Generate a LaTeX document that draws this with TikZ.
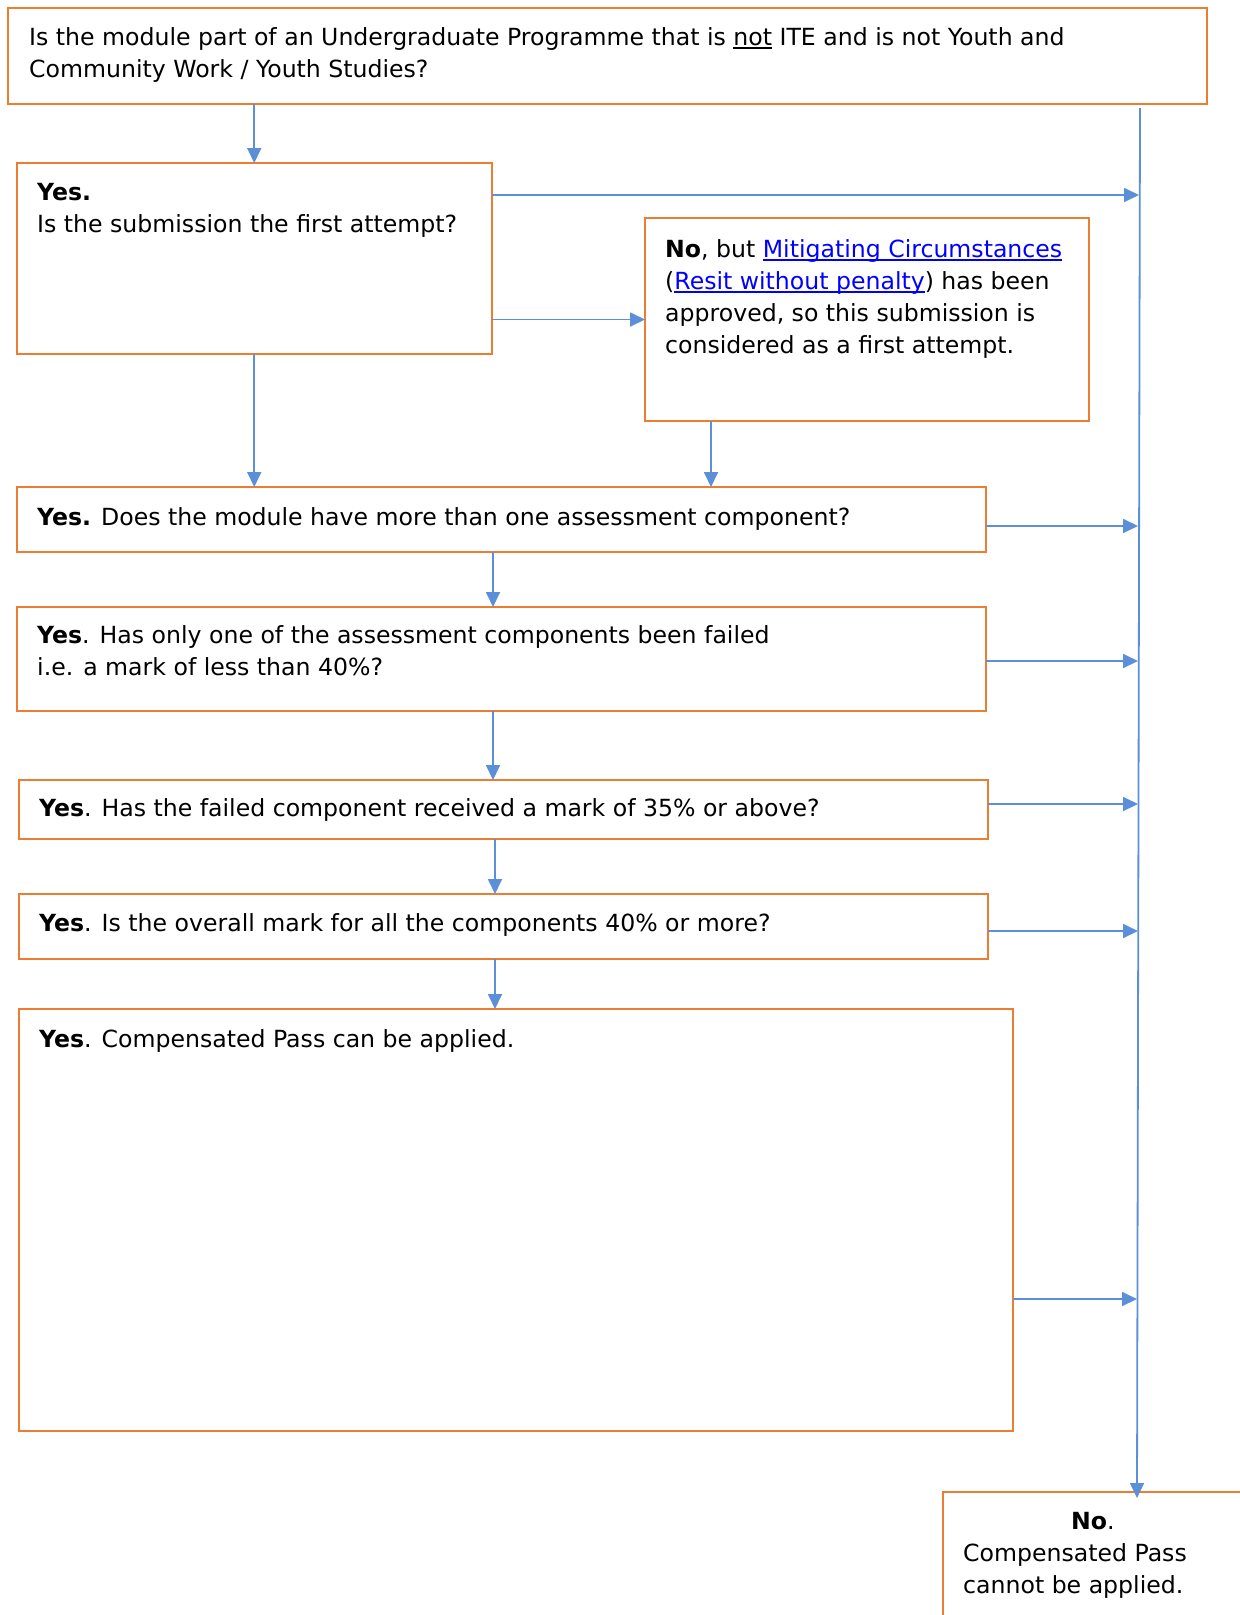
\documentclass[tikz,border=0pt]{standalone}
\usepackage{fontspec}
\setmainfont{DejaVu Sans}
\usetikzlibrary{arrows.meta}
\definecolor{boxor}{HTML}{ED7D31}
\definecolor{conblue}{HTML}{5B8FD8}
\definecolor{lnkblue}{HTML}{0000FF}
\newcommand\ulx[1]{\leavevmode\setbox0=\hbox{#1}\rlap{\rule[-4pt]{\wd0}{1.6pt}}\box0\relax}
\newcommand\lnk[1]{{\color{lnkblue}\ulx{#1}}}
\begin{document}
\begin{tikzpicture}[x=1pt,y=-1pt,
  box/.style={draw=boxor, line width=2pt, rectangle, inner sep=0pt, outer sep=0pt, anchor=north west},
  txt/.style={inner sep=0pt, anchor=base west, align=left, font=\fontsize{23.6}{32}\selectfont},
  conn/.style={draw=conblue, line width=1.8pt, -{Triangle[length=15pt,width=14pt]}}]
\useasboundingbox (0,0) rectangle (1240,1615);
\clip (0,0) rectangle (1240,1615);
% boxes
\node[box, minimum width=1199pt, minimum height=96pt] (b0) at (8,8) {};
\node[box, minimum width=475.5pt, minimum height=191pt] (b1) at (16.5,163) {};
\node[box, minimum width=444pt, minimum height=203pt] (nb) at (645,218) {};
\node[box, minimum width=969.5pt, minimum height=65pt] (b3) at (16.5,487) {};
\node[box, minimum width=969.5pt, minimum height=104pt] (b4) at (16.5,607) {};
\node[box, minimum width=969.5pt, minimum height=59pt] (b5) at (18.5,780) {};
\node[box, minimum width=969.5pt, minimum height=65pt] (b6) at (18.5,894) {};
\node[box, minimum width=994.5pt, minimum height=422pt] (b7) at (18.5,1009) {};
\node[box, minimum width=320pt, minimum height=150pt] (nob) at (943,1492) {};
% texts (base anchor = baseline of the last line)
\node[txt] (t0) at (29,77) {Is the module part of an Undergraduate Programme that is \ulx{not} ITE and is not Youth and\\Community Work / Youth Studies?};
\node[txt] (t1) at (37,232) {\textbf{Yes.}\\Is the submission the first attempt?};
\node[txt] (tn) at (665,353) {\textbf{No}, but \lnk{Mitigating Circumstances}\\(\lnk{Resit without penalty}) has been\\approved, so this submission is\\considered as a first attempt.};
\node[txt] (t3) at (37,525) {\textbf{Yes.} Does the module have more than one assessment component?};
\node[txt] (t4) at (37,675) {\textbf{Yes}. Has only one of the assessment components been failed\\i.e. a mark of less than 40\%?};
\node[txt] (t5) at (39,816) {\textbf{Yes}. Has the failed component received a mark of 35\% or above?};
\node[txt] (t6) at (39,931) {\textbf{Yes}. Is the overall mark for all the components 40\% or more?};
\node[txt] (t7) at (39,1047) {\textbf{Yes}. Compensated Pass can be applied.};
\node[txt] (tno) at (963,1593) {\hspace*{108pt}\textbf{No}.\\Compensated Pass\\cannot be applied.};
% coordinates
\coordinate (vtop) at (1140,108);
\coordinate (vbot) at (1137,1498);
\coordinate (e1) at (1139,195);
\coordinate (e3) at (1138,526);
\coordinate (e4) at (1138,661);
\coordinate (e5) at (1138,804);
\coordinate (e6) at (1138,931);
\coordinate (e7) at (1137,1299);
\coordinate (xk) at (711,0);
\coordinate (xm) at (493,0);
\coordinate (xn) at (495,0);
% connectors
\draw[conn] (vtop) -- (vbot);
\draw[conn] (b0.south -| b1.north) -- (b1.north);
\draw[conn] (b1.east |- e1) -- (e1);
\draw[conn] (b1.east |- nb.west) -- (nb.west);
\draw[conn] (b1.south) -- (b1.south |- b3.north);
\draw[conn] (nb.south -| xk) -- (b3.north -| xk);
\draw[conn] (b3.east |- e3) -- (e3);
\draw[conn] (b3.south -| xm) -- (b4.north -| xm);
\draw[conn] (b4.east |- e4) -- (e4);
\draw[conn] (b4.south -| xm) -- (b5.north -| xm);
\draw[conn] (b5.east |- e5) -- (e5);
\draw[conn] (b5.south -| xn) -- (b6.north -| xn);
\draw[conn] (b6.east |- e6) -- (e6);
\draw[conn] (b6.south -| xn) -- (b7.north -| xn);
\draw[conn] (b7.east |- e7) -- (e7);
\end{tikzpicture}
\end{document}
